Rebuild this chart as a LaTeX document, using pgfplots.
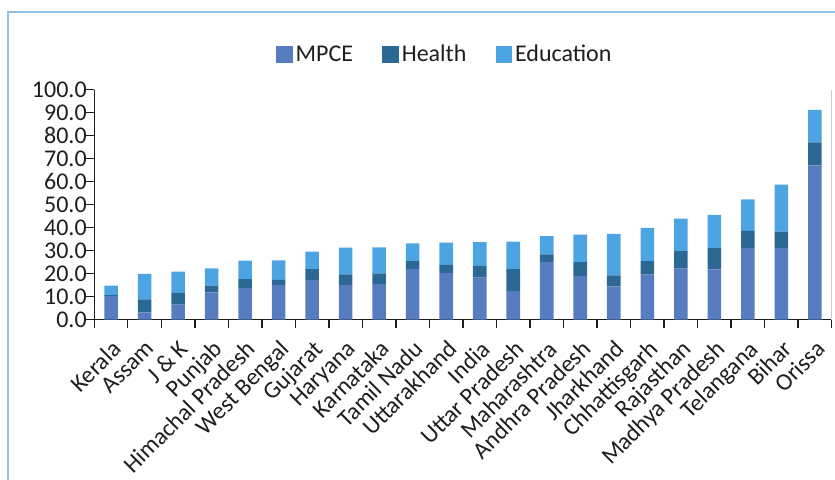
\documentclass[border=0pt]{standalone}
\usepackage{pgfplots}
\pgfplotsset{compat=1.18}
\usepackage{pgfplotstable}
\usepackage{fontspec}
\setmainfont{Carlito}

\definecolor{mpce}{RGB}{88,124,192}
\definecolor{health}{RGB}{44,104,148}
\definecolor{educ}{RGB}{77,164,226}
\definecolor{frameblue}{RGB}{150,192,226}
\definecolor{txt}{RGB}{30,30,30}

% Per-capita cost shares by state: MPCE, Health, Education (stacked segments)
\pgfplotstableread{
idx mpce health edu
0  10.2 0.4 4.1
1  3.1  5.6 11.1
2  6.5  5.1 9.2
3  11.8 2.9 7.5
4  13.8 3.8 8.0
5  15.0 2.2 8.5
6  17.2 4.7 7.6
7  15.0 4.6 11.6
8  15.4 4.7 11.3
9  21.9 3.5 7.7
10 20.3 3.4 9.7
11 18.2 5.1 10.3
12 12.4 9.5 12.0
13 25.1 3.2 7.9
14 19.0 5.9 12.0
15 14.4 4.8 18.0
16 19.5 5.9 14.4
17 22.1 7.6 14.2
18 21.8 9.2 14.5
19 31.0 7.5 13.7
20 31.0 7.2 20.4
21 67.0 10.0 14.1
}\datatable

\begin{document}
\begin{tikzpicture}
\begin{axis}[
  at={(0pt,0pt)}, anchor=south west,
  scale only axis,
  width=553pt, height=172.5pt,
  ybar stacked, bar width=10.2pt,
  xmin=-0.5, xmax=21.5,
  ymin=0, ymax=100,
  axis x line*=bottom, axis y line*=left,
  axis line style={line width=1pt, color=txt},
  xtick={0,...,21},
  xticklabels={Kerala,Assam,{J \& K},Punjab,Himachal Pradesh,West Bengal,Gujarat,Haryana,Karnataka,Tamil Nadu,Uttarakhand,India,Uttar Pradesh,Maharashtra,Andhra Pradesh,Jharkhand,Chhattisgarh,Rajasthan,Madhya Pradesh,Telangana,Bihar,Orissa},
  major x tick style={draw=none},
  minor xtick={-0.5,0.5,...,21.5},
  minor x tick style={line width=1pt, color=txt},
  minor tick length=6pt,
  ytick={0,10,...,100},
  major tick length=6pt,
  y tick style={line width=1pt, color=txt},
  tick align=outside,
  /pgf/number format/fixed,
  /pgf/number format/fixed zerofill,
  /pgf/number format/precision=1,
  /pgf/number format/assume math mode=true,
  ticklabel style={font=\fontsize{18}{18}\selectfont, text=txt},
  xticklabel style={anchor=north east, inner sep=1pt, yshift=-7pt, rotate=45},
  yticklabel style={inner sep=1pt, xshift=1.5pt},
  legend style={at={(0.476,1.152)}, anchor=center, draw=none, fill=none,
    legend columns=-1, font=\fontsize{18}{18}\selectfont, text=txt,
    nodes={inner sep=2pt},
    /tikz/every even column/.append style={column sep=20pt}},
  legend image code/.code={\fill[#1,draw=none] (0pt,-6.5pt) rectangle (12.5pt,6.5pt);},
  clip=false,
]
\addplot[fill=mpce, draw=none] table[x=idx, y=mpce] {\datatable};
\addplot[fill=health, draw=none] table[x=idx, y=health] {\datatable};
\addplot[fill=educ, draw=none] table[x=idx, y=edu] {\datatable};
\legend{MPCE, Health, Education}
\draw[color=black!20, line width=0.6pt] (rel axis cs:1,0) -- (rel axis cs:1,1);
\end{axis}
% outer chart frame (left and top edges)
\draw[frameblue, line width=1.5pt] (-64.35pt,-130pt) -- (-64.35pt,230.6pt) -- (570pt,230.6pt);
\pgfresetboundingbox
\useasboundingbox (-70.725pt,-119.625pt) rectangle (555.525pt,239.625pt);
\end{tikzpicture}
\end{document}
